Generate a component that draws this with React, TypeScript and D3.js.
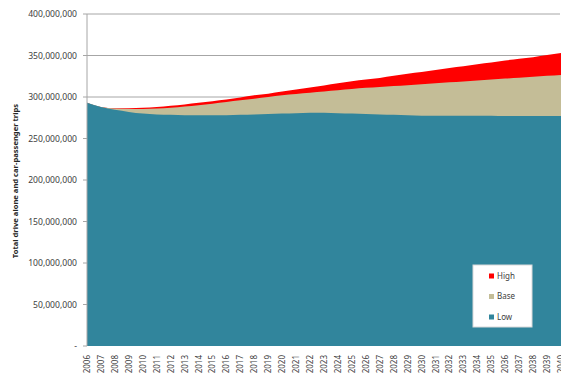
import React from "react";
import * as d3 from "d3";

// Annual drive-alone + car-passenger trip forecasts, 2006–2040
const years: number[] = d3.range(2006, 2041);

const highTrips: number[] = [
  293, 288, 286.5, 286.5, 287, 288, 289.5, 291, 293, 295, 297, 299.5, 302, 304,
  306.5, 309, 311.5, 314, 316.5, 319, 321, 323, 325.5, 328, 330, 332.5, 335,
  337, 339.5, 341.5, 344, 346, 348, 350.5, 353,
].map((v) => v * 1e6);

const baseTrips: number[] = [
  293, 288, 286, 285.5, 285.5, 286, 287, 288.5, 290, 292, 294, 296, 298, 300,
  302, 303.5, 305, 306.5, 308, 309.5, 311, 312, 313.2, 314.3, 315.5, 316.6,
  317.7, 318.8, 320, 321.1, 322.2, 323.3, 324.4, 325.5, 326.5,
].map((v) => v * 1e6);

const lowTrips: number[] = [
  293, 288, 284.5, 282, 280, 279, 278.5, 278, 278, 278, 278, 278.5, 279, 279.5,
  280, 280.5, 281, 281, 280.5, 280, 279.5, 279, 278.5, 278, 277.5, 277.5, 277.5,
  277.5, 277.5, 277.5, 277, 277, 277, 277, 277,
].map((v) => v * 1e6);

const yTicks: number[] = d3.range(0, 400000001, 50000000);

const seriesList = [
  { name: "High", values: highTrips, color: "#ff0000" },
  { name: "Base", values: baseTrips, color: "#c4bd97" },
  { name: "Low", values: lowTrips, color: "#31859c" },
];

const W = 561;
const H = 376;
const plot = { left: 87, right: 561, top: 14, bottom: 346 };

export default function App() {
  const x = d3.scaleLinear().domain([2006, 2040]).range([plot.left, plot.right]);
  const y = d3.scaleLinear().domain([0, 400000000]).range([plot.bottom, plot.top]);
  const fmt = d3.format(",");
  const font = "'Noto Sans', 'Open Sans', sans-serif";

  const makeArea = (vals: number[]) =>
    d3
      .area<number>()
      .x((_, i) => x(years[i]))
      .y0(y(0))
      .y1((d) => y(d))
      .curve(d3.curveMonotoneX)(vals) || "";

  return (
    <svg
      width={W}
      height={H}
      style={{ position: "absolute", left: 0, top: 0, background: "#fff" }}
      fontFamily={font}
    >
      {/* horizontal gridlines */}
      {yTicks.slice(1).map((t) => (
        <line
          key={t}
          x1={plot.left}
          x2={plot.right - 1}
          y1={y(t)}
          y2={y(t)}
          stroke="#a6a6a6"
          strokeWidth={1}
        />
      ))}

      {/* overlapping areas, highest scenario drawn first */}
      {seriesList.map((s) => (
        <path key={s.name} d={makeArea(s.values)} fill={s.color} />
      ))}

      {/* value axis */}
      <line
        x1={plot.left}
        x2={plot.left}
        y1={plot.top}
        y2={plot.bottom}
        stroke="#a6a6a6"
      />
      {yTicks.map((t) => (
        <g key={t}>
          <line
            x1={plot.left - 4}
            x2={plot.left}
            y1={y(t)}
            y2={y(t)}
            stroke="#a6a6a6"
          />
          <text
            x={77}
            y={y(t)}
            dy="0.35em"
            textAnchor="end"
            fontSize={8.6}
            fill="#404040"
          >
            {t === 0 ? "-" : fmt(t)}
          </text>
        </g>
      ))}

      {/* category axis labels */}
      {years.map((yr) => (
        <text
          key={yr}
          transform={`translate(${x(yr) + 3},${plot.bottom + 9}) rotate(-90)`}
          textAnchor="end"
          fontSize={8}
          fill="#404040"
        >
          {yr}
        </text>
      ))}

      {/* axis title */}
      <text
        transform={`translate(18,${(102 + 260) / 2}) rotate(-90)`}
        textAnchor="middle"
        fontSize={7.6}
        fontWeight="bold"
        fill="#262626"
      >
        Total drive alone and car-passenger trips
      </text>

      {/* legend */}
      <g transform="translate(473,265)">
        <rect width={59} height={62} fill="#fff" stroke="#d9d9d9" />
        {seriesList.map((s, i) => (
          <g key={s.name} transform={`translate(16,${11 + i * 20.5})`}>
            <rect x={0} y={-2.5} width={5} height={5} fill={s.color} />
            <text x={8} y={0} dy="0.35em" fontSize={8} fill="#404040">
              {s.name}
            </text>
          </g>
        ))}
      </g>
    </svg>
  );
}
